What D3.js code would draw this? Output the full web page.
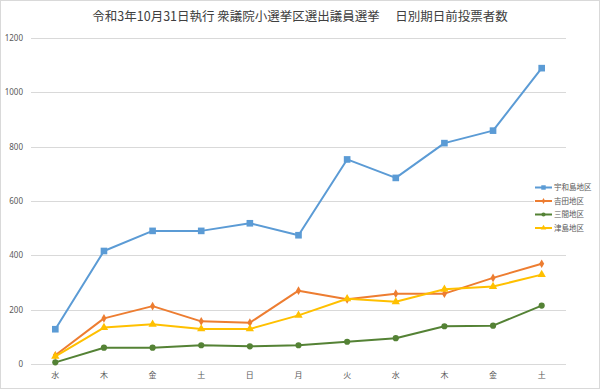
<!DOCTYPE html>
<html>
<head>
<meta charset="utf-8">
<script src="https://cdn.jsdelivr.net/npm/d3@7"></script>
<style>
  body { margin: 0; background: #fff; }
  text { font-family: "Noto Sans CJK JP", "Noto Sans", sans-serif; }
</style>
</head>
<body>
<div id="chart"></div>
<script>
// data
const days = ["水", "木", "金", "土", "日", "月", "火", "水", "木", "金", "土"]
const uwajima = [128, 416, 490, 490, 518, 474, 753, 685, 813, 859, 1089]
const yoshida = [32, 168, 213, 157, 152, 270, 238, 259, 259, 317, 369]
const mima = [6, 60, 60, 69, 65, 69, 82, 95, 139, 141, 215]
const tsushima = [28, 134, 146, 129, 129, 179, 240, 229, 275, 285, 329]
const yTicks = [0, 200, 400, 600, 800, 1000, 1200]
const title = "令和3年10月31日執行 衆議院小選挙区選出議員選挙　 日別期日前投票者数"

const series = [
    { name: "宇和島地区", values: uwajima, color: "#5B9BD5", marker: d3.symbolSquare, size: 44 },
    { name: "吉田地区", values: yoshida, color: "#ED7D31", marker: d3.symbolDiamond, size: 22 },
    { name: "三間地区", values: mima, color: "#548235", marker: d3.symbolCircle, size: 30 },
    { name: "津島地区", values: tsushima, color: "#FFC000", marker: d3.symbolTriangle, size: 30 }
]

// ----------------------------------------------------------

var W = 600, H = 390
var plot = { left: 31, right: 566, top: 38, bottom: 364 }

var svg = d3.select("#chart")
    .append("svg")
    .attr("width", W)
    .attr("height", H)

// outer border
svg.append("rect")
    .attr("x", 0.5).attr("y", 0.5)
    .attr("width", W - 1).attr("height", H - 2)
    .attr("fill", "#fff")
    .attr("stroke", "#D9D9D9")

svg.append("text")
    .attr("x", 300)
    .attr("y", 21)
    .attr("text-anchor", "middle")
    .attr("font-size", 12.5)
    .attr("fill", "#404040")
    .style("white-space", "pre")
    .text(title)

var x = d3.scaleBand().domain(d3.range(days.length)).range([plot.left, plot.right])
var y = d3.scaleLinear().domain([0, 1200]).range([plot.bottom, plot.top])

// gridlines
svg.append("g").selectAll("line").data(yTicks).enter()
    .append("line")
    .attr("x1", plot.left).attr("x2", plot.right)
    .attr("y1", d => Math.round(y(d)) + 0.5)
    .attr("y2", d => Math.round(y(d)) + 0.5)
    .attr("stroke", "#D9D9D9")
    .attr("stroke-width", 1)

// y axis labels
var yAxis = d3.axisLeft(y).tickValues(yTicks).tickFormat(d3.format("d")).tickSize(0).tickPadding(8)
var yAxisGroup = svg.append("g")
    .attr("transform", "translate(" + plot.left + ",0)")
    .call(yAxis)
yAxisGroup.select(".domain").remove()
yAxisGroup.selectAll("text")
    .attr("font-size", 8)
    .attr("fill", "#595959")
    .style("font-family", "'Noto Sans', sans-serif")

// x axis labels
var xAxis = d3.axisBottom(x).tickFormat(i => days[i]).tickSize(0).tickPadding(8)
var xAxisGroup = svg.append("g")
    .attr("transform", "translate(0," + plot.bottom + ")")
    .call(xAxis)
xAxisGroup.select(".domain").remove()
xAxisGroup.selectAll("text")
    .attr("font-size", 8)
    .attr("fill", "#595959")

var cx = i => x(i) + x.bandwidth() / 2

var line = d3.line()
    .x((d, i) => cx(i))
    .y(d => y(d))

var elementGroup = svg.append("g")

series.forEach(s => {
    elementGroup.append("path")
        .datum(s.values)
        .attr("fill", "none")
        .attr("stroke", s.color)
        .attr("stroke-width", 2)
        .attr("stroke-linejoin", "round")
        .attr("d", line)

    elementGroup.selectAll(null)
        .data(s.values)
        .enter()
        .append("path")
        .attr("d", d3.symbol().type(s.marker).size(s.size))
        .attr("transform", (d, i) => "translate(" + cx(i) + "," + y(d) + ")")
        .attr("fill", s.color)
})

// legend
var legend = svg.append("g")
    .selectAll("g").data(series).enter()
    .append("g")
    .attr("transform", (d, i) => "translate(535," + (187.5 + i * 13.5) + ")")

legend.append("rect")
    .attr("x", -1).attr("y", -3)
    .attr("width", 20).attr("height", 6)
    .attr("fill", "#fff")

legend.append("line")
    .attr("x1", 0).attr("x2", 17)
    .attr("stroke", d => d.color)
    .attr("stroke-width", 2)

legend.append("path")
    .attr("d", d => d3.symbol().type(d.marker).size(d.size * 0.45)())
    .attr("transform", "translate(8.5,0)")
    .attr("fill", d => d.color)

legend.append("text")
    .attr("x", 19)
    .attr("y", 0)
    .attr("dy", "0.35em")
    .attr("font-size", 7.5)
    .attr("fill", "#595959")
    .text(d => d.name)
</script>
</body>
</html>
